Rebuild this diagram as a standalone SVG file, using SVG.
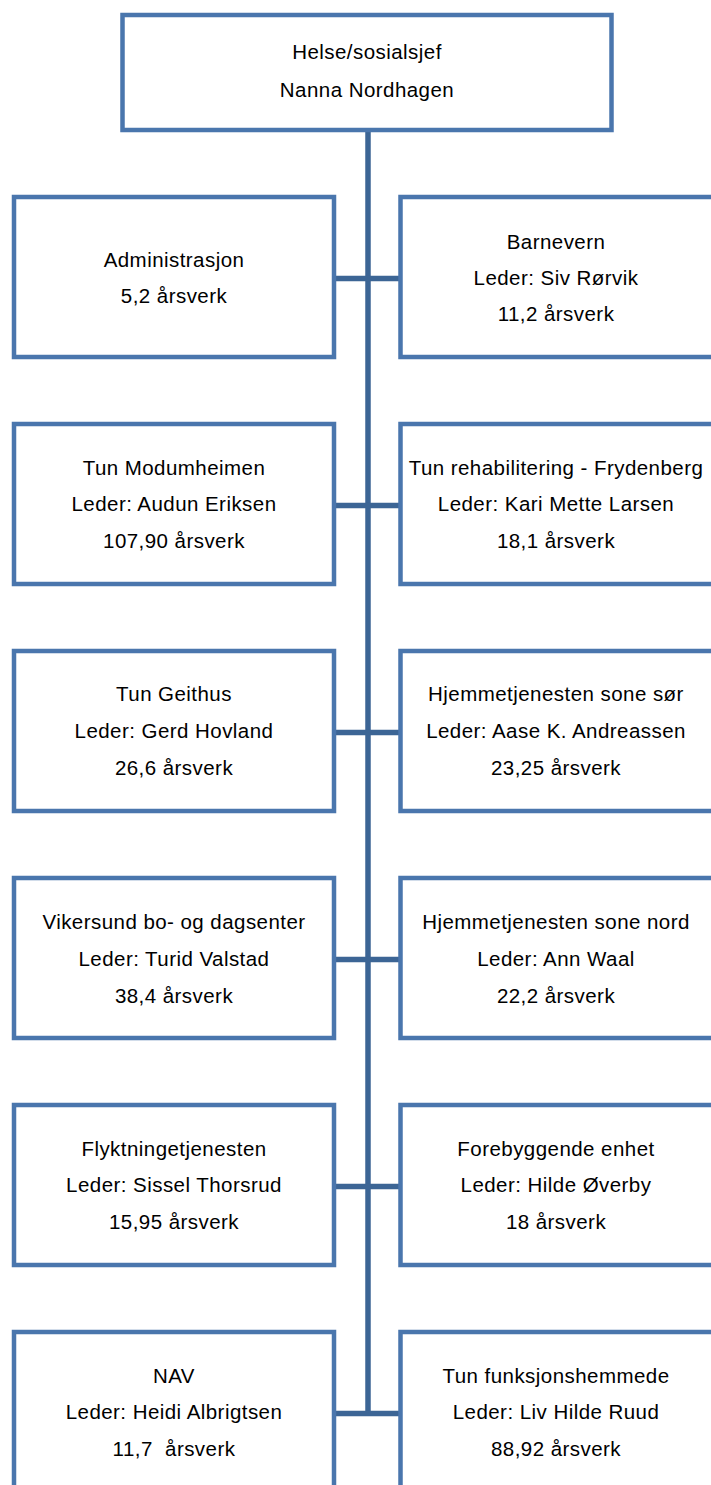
<svg xmlns="http://www.w3.org/2000/svg" width="711" height="1485" viewBox="0 0 711 1485">
<style>
.box{fill:#fff;stroke:#4a76ad;stroke-width:4.5}
.ln{stroke:#3c6595;stroke-width:5.5;fill:none}
text{font-family:"Liberation Sans",Arial,sans-serif;font-size:20.5px;letter-spacing:0.45px;fill:#000;text-anchor:middle}
</style>
<rect width="711" height="1485" fill="#fff"/>
<g id="connectors">
<line class="ln" x1="368" y1="131" x2="368" y2="1416"/>
<line class="ln" x1="334" y1="278.5" x2="401" y2="278.5"/>
<line class="ln" x1="334" y1="505.5" x2="401" y2="505.5"/>
<line class="ln" x1="334" y1="732.5" x2="401" y2="732.5"/>
<line class="ln" x1="334" y1="959.5" x2="401" y2="959.5"/>
<line class="ln" x1="334" y1="1186.5" x2="401" y2="1186.5"/>
<line class="ln" x1="334" y1="1413.5" x2="401" y2="1413.5"/>
</g>
<g id="n0"><rect class="box" x="122.5" y="15" width="489" height="115"/>
<text x="367" y="59">Helse/sosialsjef</text><text x="367" y="97">Nanna Nordhagen</text></g>
<g id="n1"><rect class="box" x="14" y="197" width="320" height="160"/>
<text x="174" y="266.5">Administrasjon</text><text x="174" y="302.5">5,2 årsverk</text></g>
<g id="n2"><rect class="box" x="400.5" y="197" width="320" height="160"/>
<text x="556" y="248.5">Barnevern</text><text x="556" y="284.5">Leder: Siv Rørvik</text><text x="556" y="320.5">11,2 årsverk</text></g>
<g id="n3"><rect class="box" x="14" y="424" width="320" height="160"/>
<text x="174" y="475">Tun Modumheimen</text><text x="174" y="511">Leder: Audun Eriksen</text><text x="174" y="547.5">107,90 årsverk</text></g>
<g id="n4"><rect class="box" x="400.5" y="424" width="320" height="160"/>
<text x="556" y="475">Tun rehabilitering - Frydenberg</text><text x="556" y="511">Leder: Kari Mette Larsen</text><text x="556" y="547.5">18,1 årsverk</text></g>
<g id="n5"><rect class="box" x="14" y="651" width="320" height="160"/>
<text x="174" y="701">Tun Geithus</text><text x="174" y="738">Leder: Gerd Hovland</text><text x="174" y="774.5">26,6 årsverk</text></g>
<g id="n6"><rect class="box" x="400.5" y="651" width="320" height="160"/>
<text x="556" y="701">Hjemmetjenesten sone sør</text><text x="556" y="738">Leder: Aase K. Andreassen</text><text x="556" y="774.5">23,25 årsverk</text></g>
<g id="n7"><rect class="box" x="14" y="878" width="320" height="160"/>
<text x="174" y="928.5">Vikersund bo- og dagsenter</text><text x="174" y="965.5">Leder: Turid Valstad</text><text x="174" y="1002.5">38,4 årsverk</text></g>
<g id="n8"><rect class="box" x="400.5" y="878" width="320" height="160"/>
<text x="556" y="928.5">Hjemmetjenesten sone nord</text><text x="556" y="965.5">Leder: Ann Waal</text><text x="556" y="1002.5">22,2 årsverk</text></g>
<g id="n9"><rect class="box" x="14" y="1105" width="320" height="160"/>
<text x="174" y="1155.5">Flyktningetjenesten</text><text x="174" y="1191.5">Leder: Sissel Thorsrud</text><text x="174" y="1228.5">15,95 årsverk</text></g>
<g id="n10"><rect class="box" x="400.5" y="1105" width="320" height="160"/>
<text x="556" y="1155.5">Forebyggende enhet</text><text x="556" y="1191.5">Leder: Hilde Øverby</text><text x="556" y="1228.5">18 årsverk</text></g>
<g id="n11"><rect class="box" x="14" y="1332" width="320" height="160"/>
<text x="174" y="1382.5">NAV</text><text x="174" y="1418.5">Leder: Heidi Albrigtsen</text><text x="174" y="1455.5">11,7&#160; årsverk</text></g>
<g id="n12"><rect class="box" x="400.5" y="1332" width="320" height="160"/>
<text x="556" y="1382.5">Tun funksjonshemmede</text><text x="556" y="1418.5">Leder: Liv Hilde Ruud</text><text x="556" y="1455.5">88,92 årsverk</text></g>
</svg>
